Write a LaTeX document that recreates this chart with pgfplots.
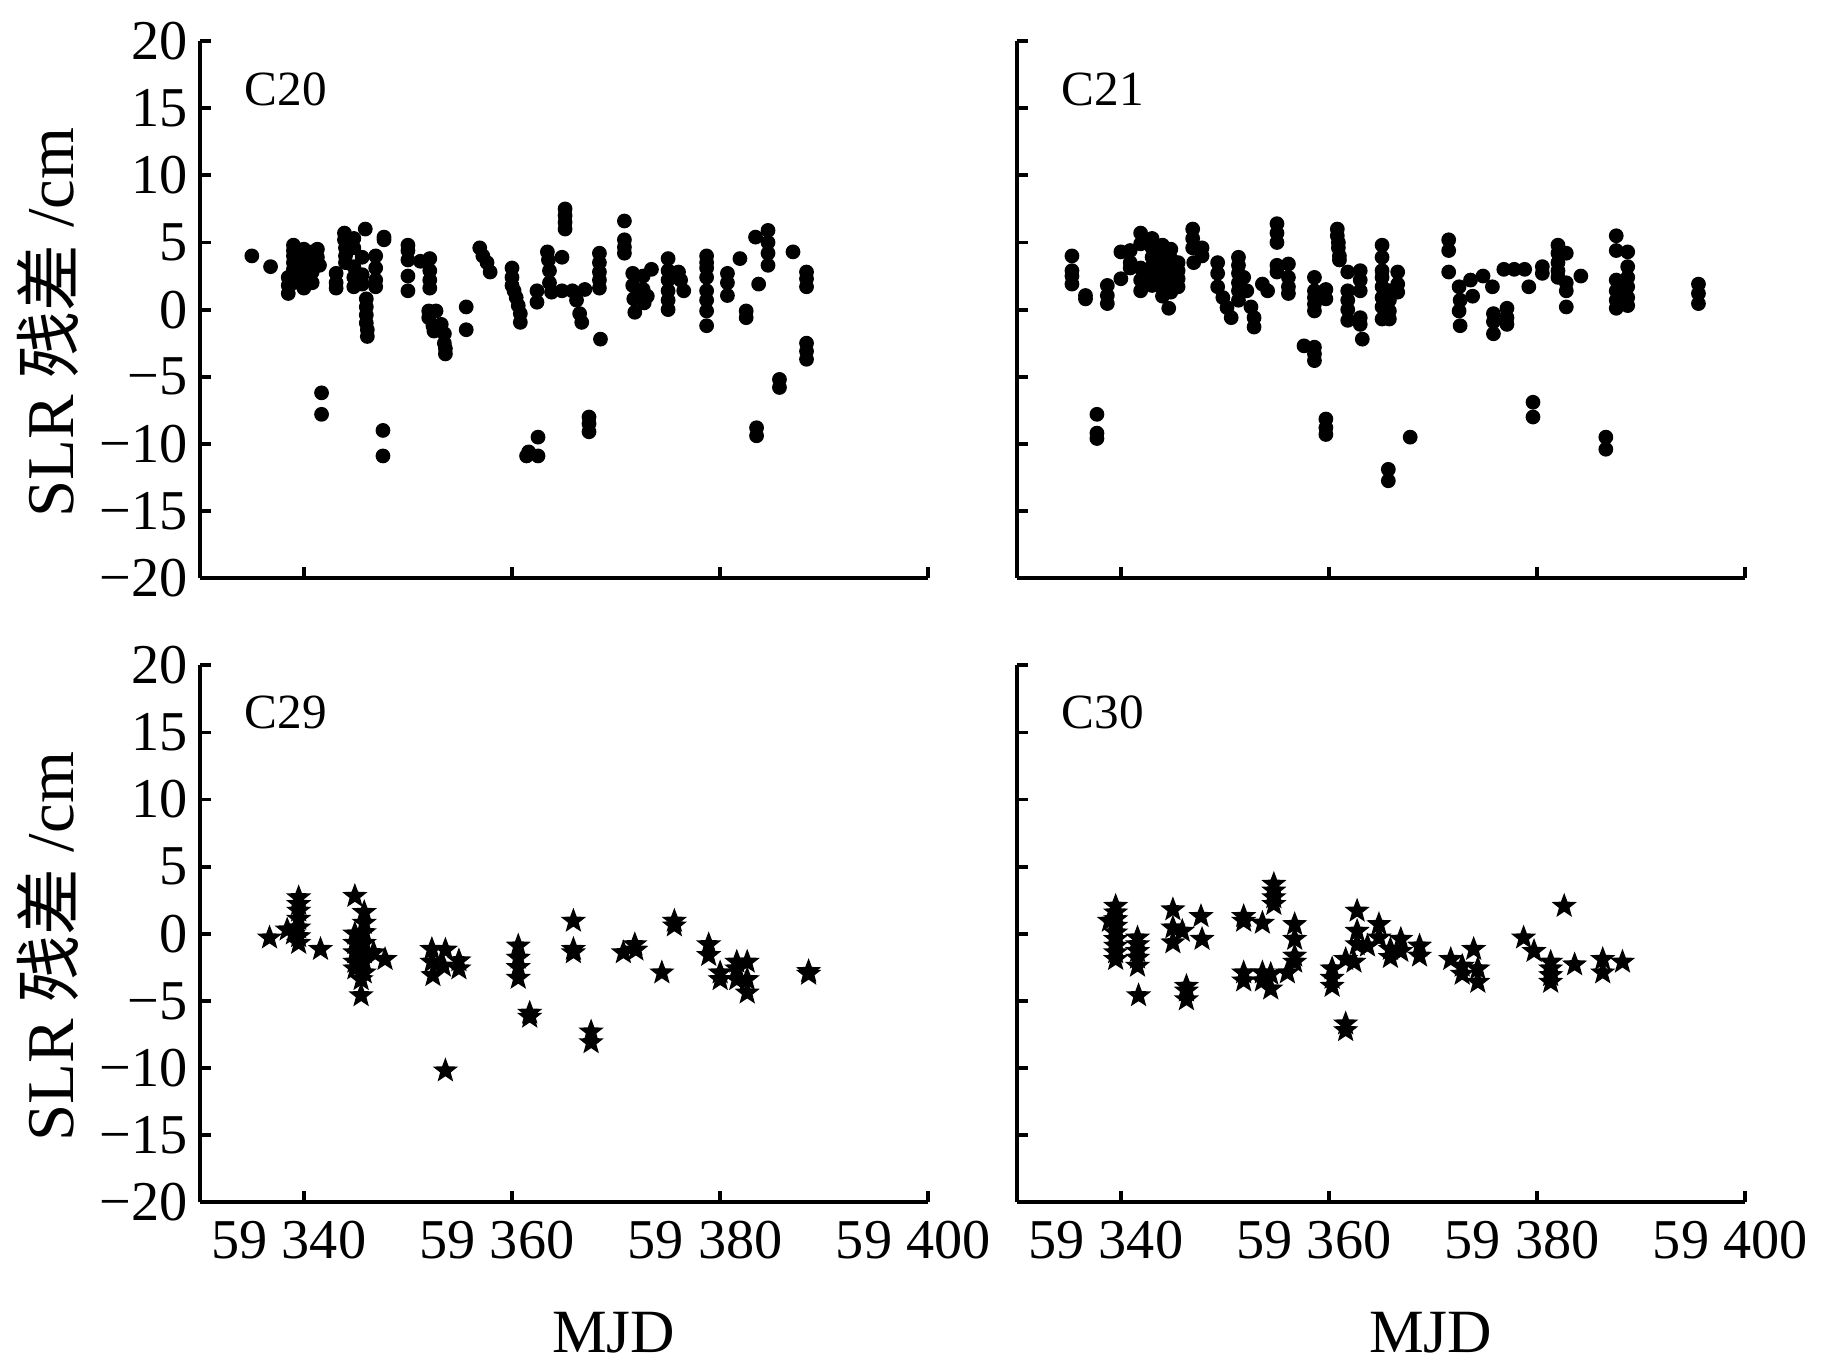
\documentclass[border=0pt]{standalone}
\usepackage{pgfplots}
\pgfplotsset{compat=1.18}
\usepackage{fontspec}
\setmainfont{Liberation Serif}
\newfontfamily\cjk{Noto Sans CJK SC}

% filled five-pointed star
\pgfdeclareplotmark{fstar}{%
  \pgfpathmoveto{\pgfpointpolar{90}{\pgfplotmarksize}}%
  \pgfpathlineto{\pgfpointpolar{126}{0.42\pgfplotmarksize}}%
  \pgfpathlineto{\pgfpointpolar{162}{\pgfplotmarksize}}%
  \pgfpathlineto{\pgfpointpolar{198}{0.42\pgfplotmarksize}}%
  \pgfpathlineto{\pgfpointpolar{234}{\pgfplotmarksize}}%
  \pgfpathlineto{\pgfpointpolar{270}{0.42\pgfplotmarksize}}%
  \pgfpathlineto{\pgfpointpolar{306}{\pgfplotmarksize}}%
  \pgfpathlineto{\pgfpointpolar{342}{0.42\pgfplotmarksize}}%
  \pgfpathlineto{\pgfpointpolar{18}{\pgfplotmarksize}}%
  \pgfpathlineto{\pgfpointpolar{54}{0.42\pgfplotmarksize}}%
  \pgfpathclose
  \pgfusepathqfillstroke
}

\pgfplotsset{
  panel/.style={
    scale only axis, width=7.285cm, height=5.37cm,
    xmin=59330, xmax=59400, ymin=-20, ymax=20,
    axis lines=left, axis line style={-, line width=1.1pt},
    x axis line style={-}, y axis line style={-},
    tick align=inside, major tick length=0.11cm,
    major tick style={black, line width=1.1pt},
    xtick={59340,59360,59380,59400},
    ytick={-20,-15,...,20},
    scaled x ticks=false, scaled y ticks=false,
    xticklabels={}, yticklabels={},
    ticklabel style={font=\fontsize{16}{19}\selectfont},
    xticklabel style={xshift=-0.15cm, yshift=-0.06cm},
  },
  bottomrow/.style={
    xticklabels={59 340,59 360,59 380,59 400},
    xlabel={MJD},
    xlabel style={font=\fontsize{17.5}{21}\selectfont,
      at={(axis description cs:0.568,-0.242)}, anchor=center},
  },
  leftcol/.style={
    yticklabels={−20,−15,−10,−5,0,5,10,15,20},
    ylabel={SLR {\cjk 残差} /cm},
    ylabel style={font=\fontsize{19}{22}\selectfont,
      at={(axis description cs:-0.209,0.476)}, anchor=center},
  },
  dots/.style={only marks, mark=*, mark size=1.9pt, mark options={fill=black, draw=black}},
  stars/.style={only marks, mark=fstar, mark size=3.2pt, mark options={fill=black, draw=black}},
}

\begin{document}
\begin{tikzpicture}

% C20
\begin{axis}[panel, leftcol, at={(0cm,0cm)}, anchor=north west]
\addplot[dots] coordinates {
(59335.0,4.0) (59336.8,3.2)
(59338.5,1.2) (59338.5,1.8) (59338.5,2.4)
(59339.0,4.8) (59339.0,4.4) (59339.0,4.0) (59339.0,3.5) (59339.0,3.0) (59339.0,2.5) (59339.0,2.0)
(59340.0,4.5) (59340.0,4.0) (59340.0,3.5) (59340.0,3.0) (59340.0,2.5) (59340.0,2.0) (59340.0,1.6)
(59340.8,4.3) (59340.8,3.6) (59340.8,2.8) (59340.8,2.0)
(59341.3,4.5) (59341.3,3.9) (59341.5,3.3)
(59341.7,-6.2) (59341.7,-7.8)
(59343.1,2.7) (59343.1,2.0) (59343.1,1.6)
(59343.9,5.7) (59343.9,5.2) (59344.0,4.6) (59344.0,4.0) (59344.0,3.5)
(59344.8,5.3) (59344.8,4.6) (59344.8,3.2) (59344.8,2.4) (59344.8,1.7)
(59345.9,6.0) (59345.6,3.9) (59345.6,2.6) (59345.6,1.9)
(59346.0,0.8) (59346.0,0.2) (59346.0,-0.4) (59346.0,-1.0) (59346.1,-1.5) (59346.1,-2.0)
(59346.9,4.0) (59346.9,3.1) (59346.9,2.2) (59346.9,1.7)
(59347.7,5.4) (59347.7,5.2)
(59347.6,-9.0) (59347.6,-10.9)
(59350.0,4.8) (59350.0,4.4) (59350.0,3.7) (59350.0,2.5) (59350.0,1.4)
(59351.2,3.6)
(59352.1,3.8) (59352.1,2.9) (59352.1,2.2) (59352.1,1.6)
(59352.0,-0.1) (59352.0,-0.6) (59352.5,-1.6) (59352.7,-0.1) (59353.2,-1.1) (59353.5,-1.8)
(59353.5,-2.5) (59353.6,-3.3) (59353.6,-2.9) (59352.4,-1.2)
(59355.6,0.2) (59355.6,-1.5)
(59356.9,4.6) (59357.2,4.0) (59357.6,3.5) (59357.9,2.8)
(59360.0,3.1) (59360.0,2.4) (59360.0,1.8) (59360.2,1.4) (59360.4,0.9) (59360.6,0.3) (59360.8,-0.3) (59360.8,-0.95)
(59361.4,-10.9) (59361.6,-10.6) (59362.5,-10.9) (59362.5,-9.5)
(59362.4,1.4) (59362.4,0.55)
(59363.4,4.3) (59363.5,3.7) (59363.6,2.9) (59363.6,2.0) (59363.8,1.3)
(59364.8,3.9) (59364.8,1.4)
(59365.1,7.5) (59365.1,7.0) (59365.1,6.5) (59365.1,6.0)
(59365.8,1.4) (59366.2,0.7) (59366.5,-0.3) (59366.7,-0.95)
(59367.0,1.5)
(59368.4,4.2) (59368.4,3.5) (59368.4,2.8) (59368.4,2.2) (59368.4,1.6) (59368.5,-2.2)
(59367.4,-8.0) (59367.4,-8.5) (59367.4,-9.1)
(59370.8,6.6) (59370.8,5.2) (59370.8,4.65) (59370.8,4.2)
(59371.6,2.7) (59371.6,1.8) (59371.7,0.8) (59371.8,-0.2) (59372.6,2.5) (59372.6,1.5) (59372.7,0.5) (59373.4,3.0) (59373.0,1.0)
(59375.0,3.8) (59375.0,2.9) (59375.0,2.2) (59375.0,1.4) (59375.0,0.7) (59375.0,0.0)
(59376.0,2.8) (59376.2,2.2) (59376.5,1.4)
(59378.7,4.0) (59378.7,3.5) (59378.7,3.1) (59378.7,2.4) (59378.7,1.4) (59378.7,0.7) (59378.7,-0.1) (59378.7,-1.2)
(59380.7,2.7) (59380.7,2.0) (59380.7,1.05)
(59381.9,3.8)
(59382.5,-0.1) (59382.5,-0.6)
(59383.4,5.4) (59384.6,5.9) (59384.6,5.0) (59384.6,4.2) (59384.6,3.3) (59383.7,1.9)
(59383.5,-8.8) (59383.5,-9.4)
(59385.7,-5.2) (59385.7,-5.8)
(59387.0,4.3)
(59388.3,2.8) (59388.3,2.3) (59388.3,1.7) (59388.3,-2.5) (59388.3,-3.1) (59388.3,-3.7)
};
\node[anchor=west, font=\fontsize{14}{17}\selectfont] at (rel axis cs:0.045,0.91) {C20};
\end{axis}

% C21
\begin{axis}[panel, at={(8.17cm,0cm)}, anchor=north west]
\addplot[dots] coordinates {
(59335.3,4.0) (59335.3,2.9) (59335.3,2.5) (59335.3,1.9)
(59336.6,1.05) (59336.6,0.8)
(59337.7,-7.8) (59337.7,-9.2) (59337.7,-9.6)
(59338.7,1.8) (59338.7,1.05) (59338.7,0.45)
(59340.0,4.3) (59340.0,2.3)
(59340.9,4.4) (59340.9,3.5) (59340.9,3.1)
(59341.9,5.7) (59341.9,4.9) (59341.9,3.1) (59341.9,2.2) (59341.9,1.4)
(59343.0,5.3) (59343.0,4.6) (59343.0,3.9) (59343.0,3.2) (59343.0,2.5) (59343.0,1.8)
(59344.0,4.8) (59344.0,4.2) (59344.0,3.6) (59344.0,3.0) (59344.0,2.4) (59344.0,1.6) (59344.0,1.0)
(59344.8,4.5) (59344.8,3.8) (59344.8,3.2) (59344.8,2.6) (59344.8,2.0) (59344.8,1.3)
(59345.5,3.5) (59345.5,2.9) (59345.5,2.3) (59345.5,1.7)
(59344.6,0.1)
(59346.9,6.0) (59346.9,5.3) (59346.9,4.6) (59347.0,3.5)
(59347.8,4.6) (59347.8,4.0)
(59349.3,3.5) (59349.3,2.7) (59349.3,1.7)
(59349.8,0.9) (59350.2,0.15) (59350.6,-0.6)
(59351.3,3.9) (59351.3,3.3) (59351.3,2.7) (59351.3,2.0) (59351.3,1.4) (59351.3,0.7)
(59351.8,2.4) (59352.1,1.4) (59352.5,0.2)
(59352.8,-0.6) (59352.8,-1.3)
(59353.6,1.9) (59354.1,1.4)
(59355.0,6.4) (59355.0,5.7) (59355.0,5.0) (59355.0,3.3) (59355.0,2.8)
(59356.1,3.4) (59356.1,2.4) (59356.1,1.7) (59356.1,1.2)
(59357.6,-2.7)
(59358.6,2.4) (59358.6,1.4) (59358.6,0.9) (59358.6,0.4) (59358.6,-0.1) (59358.6,-2.8) (59358.6,-3.3) (59358.6,-3.8)
(59359.7,1.5) (59359.7,0.8) (59359.7,-8.15) (59359.7,-8.8) (59359.7,-9.3)
(59360.8,6.0) (59360.8,5.5) (59360.9,5.0) (59360.9,4.6) (59361.0,4.0) (59361.0,3.7)
(59361.8,2.8) (59361.8,1.4) (59361.8,0.7) (59361.8,0.0) (59361.8,-0.8)
(59363.0,2.9) (59363.0,2.2) (59363.0,1.4) (59363.0,-0.6) (59363.0,-1.1) (59363.2,-2.2)
(59365.1,4.8) (59365.1,3.9) (59365.1,2.9) (59365.1,2.4) (59365.1,1.7) (59365.1,0.9) (59365.1,0.2) (59365.1,-0.7)
(59365.8,1.4) (59365.8,0.7) (59365.8,-0.1) (59365.8,-0.7)
(59366.6,2.8) (59366.6,1.9) (59366.6,1.3)
(59367.8,-9.5)
(59365.7,-11.9) (59365.7,-12.75)
(59371.5,5.2) (59371.5,4.4) (59371.5,2.8)
(59372.5,1.7) (59372.6,0.7) (59372.5,-0.1) (59372.6,-1.2)
(59373.6,2.2) (59373.8,1.0) (59374.8,2.5)
(59375.7,1.7) (59375.8,-0.3) (59375.8,-0.9) (59375.8,-1.8)
(59377.1,0.1) (59377.1,-0.6) (59377.1,-1.1)
(59376.8,3.0) (59377.8,3.0) (59378.8,3.0) (59379.2,1.7)
(59379.6,-6.9) (59379.6,-8.0)
(59380.5,3.2) (59380.5,2.7)
(59382.0,4.8) (59382.0,4.2) (59382.0,3.5) (59382.0,2.9) (59382.0,2.4)
(59382.8,4.2) (59382.8,2.0) (59382.8,1.4) (59382.8,0.2)
(59384.2,2.5)
(59386.6,-9.5) (59386.6,-10.4)
(59387.6,5.5) (59387.6,4.4) (59387.6,2.2) (59387.6,1.4) (59387.6,0.7) (59387.6,0.1)
(59388.7,4.3) (59388.7,3.2) (59388.7,2.4) (59388.7,1.7) (59388.7,0.9) (59388.7,0.3)
(59395.5,1.9) (59395.5,1.2) (59395.5,0.45)
};
\node[anchor=west, font=\fontsize{14}{17}\selectfont] at (rel axis cs:0.045,0.91) {C21};
\end{axis}

% C29
\begin{axis}[panel, leftcol, bottomrow, at={(0cm,-6.242cm)}, anchor=north west]
\addplot[stars] coordinates {
(59336.7,-0.3)
(59338.4,0.3) (59339.0,0.0)
(59339.5,2.7) (59339.5,2.2) (59339.5,1.7) (59339.5,1.1) (59339.5,0.45) (59339.5,-0.2) (59339.5,-0.7)
(59341.6,-1.15)
(59344.9,2.8)
(59344.9,0.0) (59344.9,-0.7) (59344.9,-1.4) (59344.9,-2.1) (59344.9,-2.6)
(59345.8,1.6) (59345.8,0.8) (59345.8,0.1) (59345.8,-0.7) (59345.8,-1.4) (59345.8,-2.1) (59345.8,-2.9) (59345.5,-3.4)
(59345.5,-4.6)
(59346.7,-1.4)
(59347.8,-1.9)
(59352.3,-1.15) (59352.3,-2.1) (59352.4,-3.1)
(59353.6,-1.2) (59353.4,-2.4)
(59354.9,-2.0) (59354.9,-2.6)
(59353.6,-10.2)
(59360.6,-0.9) (59360.6,-1.8) (59360.6,-2.5) (59360.6,-3.3)
(59361.7,-5.9) (59361.7,-6.2)
(59365.9,0.95) (59365.9,-1.15) (59365.9,-1.4)
(59367.6,-7.3) (59367.6,-8.1)
(59370.7,-1.4) (59371.8,-0.8) (59371.9,-1.2)
(59374.4,-2.9)
(59375.6,0.95) (59375.6,0.6)
(59378.9,-0.8) (59378.9,-1.6)
(59380.0,-2.9) (59380.0,-3.4)
(59381.6,-2.1) (59381.6,-2.6) (59381.6,-3.4)
(59382.6,-2.1) (59382.6,-3.4) (59382.6,-4.4)
(59388.5,-3.0) (59388.5,-2.8)
};
\node[anchor=west, font=\fontsize{14}{17}\selectfont] at (rel axis cs:0.045,0.912) {C29};
\end{axis}

% C30
\begin{axis}[panel, bottomrow, at={(8.17cm,-6.242cm)}, anchor=north west]
\addplot[stars] coordinates {
(59339.5,2.06) (59339.5,1.57) (59339.5,1.07) (59339.5,0.58) (59339.5,0.08) (59339.5,-0.41) (59339.5,-0.91) (59339.5,-1.4) (59339.5,-1.9)
(59338.9,0.95)
(59341.6,-0.3) (59341.6,-0.8) (59341.6,-1.3) (59341.6,-1.8) (59341.6,-2.4)
(59341.7,-4.6)
(59345.0,1.8) (59345.0,0.45) (59345.0,-0.66)
(59345.9,0.2)
(59347.7,1.3) (59347.8,-0.4)
(59346.3,-3.9) (59346.3,-4.25) (59346.3,-4.9)
(59351.8,1.3) (59351.8,0.95) (59351.8,-2.9) (59351.8,-3.5)
(59353.6,0.8) (59353.6,-2.9) (59353.6,-3.5)
(59354.4,-3.0) (59354.4,-4.1)
(59354.7,3.7) (59354.7,3.2) (59354.7,2.7) (59354.7,2.2)
(59356.0,-2.9)
(59356.7,0.7) (59356.7,-0.4) (59356.7,-1.65) (59356.7,-2.1)
(59360.3,-2.6) (59360.3,-3.3) (59360.3,-3.9)
(59361.6,-1.9) (59361.6,-6.7) (59361.6,-7.2)
(59362.7,1.7) (59362.7,0.2) (59362.7,-0.8) (59362.4,-2.1)
(59363.7,-0.9)
(59364.8,0.7) (59364.8,-0.3)
(59365.9,-1.15) (59365.9,-1.75)
(59366.9,-0.4) (59366.9,-1.3)
(59368.7,-0.9) (59368.7,-1.65)
(59371.7,-1.9)
(59372.8,-3.0) (59372.8,-2.4)
(59373.9,-1.15) (59374.3,-2.6) (59374.3,-3.6)
(59378.7,-0.3)
(59379.7,-1.3)
(59381.3,-2.1) (59381.3,-2.6) (59381.3,-3.1) (59381.3,-3.6)
(59382.6,2.06)
(59383.6,-2.3)
(59386.3,-1.9) (59386.3,-2.9)
(59388.2,-2.1)
};
\node[anchor=west, font=\fontsize{14}{17}\selectfont] at (rel axis cs:0.045,0.912) {C30};
\end{axis}

\path (-1.998cm,0.411cm) rectangle (16.432cm,-13.289cm);
\end{tikzpicture}
\end{document}
